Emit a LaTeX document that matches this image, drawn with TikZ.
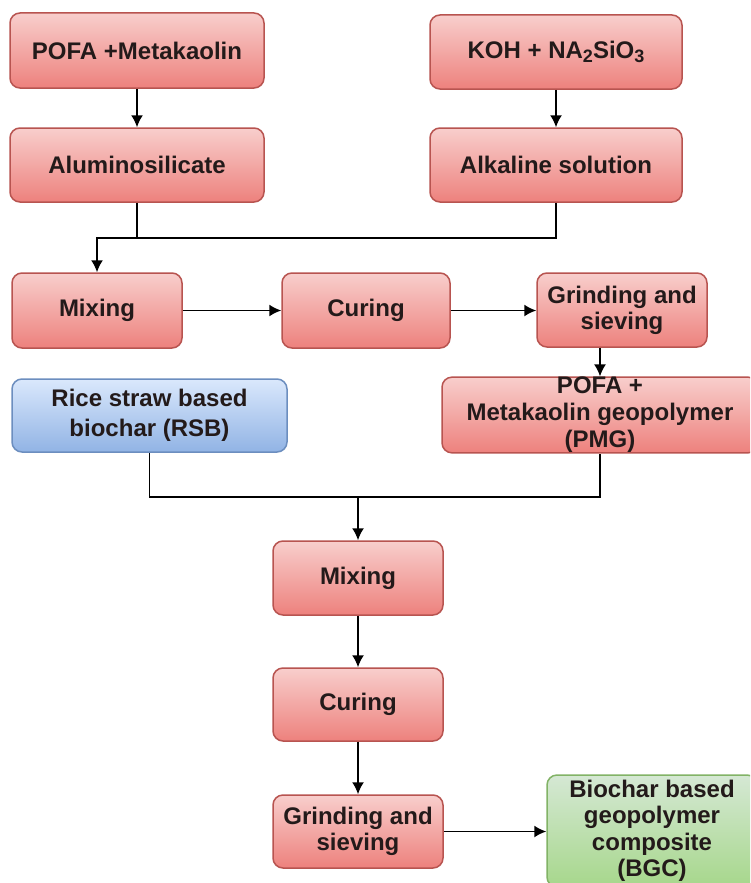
\documentclass[tikz,border=0pt]{standalone}
\usepackage{fontspec}
\setmainfont{Liberation Sans}
\usetikzlibrary{arrows.meta}
\definecolor{rfillA}{HTML}{F8CECC}
\definecolor{rfillB}{HTML}{EA6B66}
\definecolor{rstroke}{HTML}{B85450}
\definecolor{bfillA}{HTML}{DAE8FC}
\definecolor{bfillB}{HTML}{7EA6E0}
\definecolor{bstroke}{HTML}{6C8EBF}
\definecolor{gfillA}{HTML}{D5E8D4}
\definecolor{gfillB}{HTML}{97D077}
\definecolor{gstroke}{HTML}{82B366}
\definecolor{txt}{HTML}{231A1A}
\newcommand\mysubs[1]{\raisebox{-0.35ex}{\fontsize{18}{18}\selectfont #1}}
\tikzset{
  box/.style={rectangle, rounded corners=10pt, line width=1.5pt, align=center,
    inner sep=0pt, text=txt,
    font=\fontsize{24}{27}\selectfont\bfseries},
  redbox/.style={box, draw=rstroke, top color=rfillA, bottom color=rfillB!85!white},
  bluebox/.style={box, draw=bstroke, top color=bfillA, bottom color=bfillB!85!white},
  greenbox/.style={box, draw=gstroke, top color=gfillA, bottom color=gfillB!85!white},
  arr/.style={line width=1.6pt, -{Latex[length=12pt,width=12pt]}},
  ln/.style={line width=1.6pt},
}
\begin{document}
\begin{tikzpicture}[x=1pt,y=-1pt]
\useasboundingbox (0,0) rectangle (750,883);
\clip (0,0) rectangle (750,883);
\fill[white] (0,0) rectangle (750,883);

\node[redbox, minimum width=254pt, minimum height=75pt] (pm) at (137,50.5) {POFA +Metakaolin};
\node[redbox, minimum width=254pt, minimum height=74pt] (alu) at (137,165) {Aluminosilicate};
\node[redbox, minimum width=252pt, minimum height=74pt] (koh) at (556,52) {KOH + NA\mysubs{2}SiO\mysubs{3}};
\node[redbox, minimum width=252pt, minimum height=74pt] (alk) at (556,165) {Alkaline solution};

\node[redbox, minimum width=170pt, minimum height=75pt] (mix1) at (97,310.5) {Mixing};
\node[redbox, minimum width=168pt, minimum height=75pt] (cur1) at (366,310.5) {Curing};
\node[redbox, minimum width=170pt, minimum height=74pt, font=\fontsize{24}{26}\selectfont\bfseries] (grd1) at (622,310) {Grinding and\\sieving};

\node[bluebox, minimum width=275pt, minimum height=73pt, font=\fontsize{24}{30}\selectfont\bfseries] (rsb) at (149.5,415.5) {Rice straw based\\biochar (RSB)};
\node[redbox, minimum width=316pt, minimum height=74pt, font=\fontsize{24}{27}\selectfont\bfseries] (pmg) at (600,415) {POFA +\\Metakaolin geopolymer\\(PMG)};

\node[redbox, minimum width=170pt, minimum height=74pt] (mix2) at (358,578) {Mixing};
\node[redbox, minimum width=170pt, minimum height=73pt] (cur2) at (358,704.5) {Curing};
\node[redbox, minimum width=170pt, minimum height=73pt, font=\fontsize{24}{26}\selectfont\bfseries] (grd2) at (358,831.5) {Grinding and\\sieving};
\node[greenbox, minimum width=210pt, minimum height=112pt, font=\fontsize{24}{26.5}\selectfont\bfseries] (bgc) at (652,831) {Biochar based\\geopolymer\\composite\\(BGC)};

\coordinate (j1) at (0,238);
\coordinate (j2) at (0,497);

\draw[arr] (pm) -- (alu);
\draw[arr] (koh) -- (alk);
\draw[arr] (alu.south) -- (alu.south |- j1) -| (mix1.north);
\draw[ln] (alk.south) |- (alu.south |- j1);
\draw[arr] (mix1) -- (cur1);
\draw[arr] (cur1.east) -- (grd1.west |- cur1.east);
\draw[arr] (grd1.south -| pmg.north) -- (pmg.north);
\draw[ln] (rsb.south) |- (pmg.south |- j2) -- (pmg.south);
\draw[arr] (mix2.north |- j2) -- (mix2.north);
\draw[arr] (mix2) -- (cur2);
\draw[arr] (cur2) -- (grd2);
\draw[arr] (grd2.east) -- (bgc.west |- grd2.east);
\end{tikzpicture}
\end{document}
